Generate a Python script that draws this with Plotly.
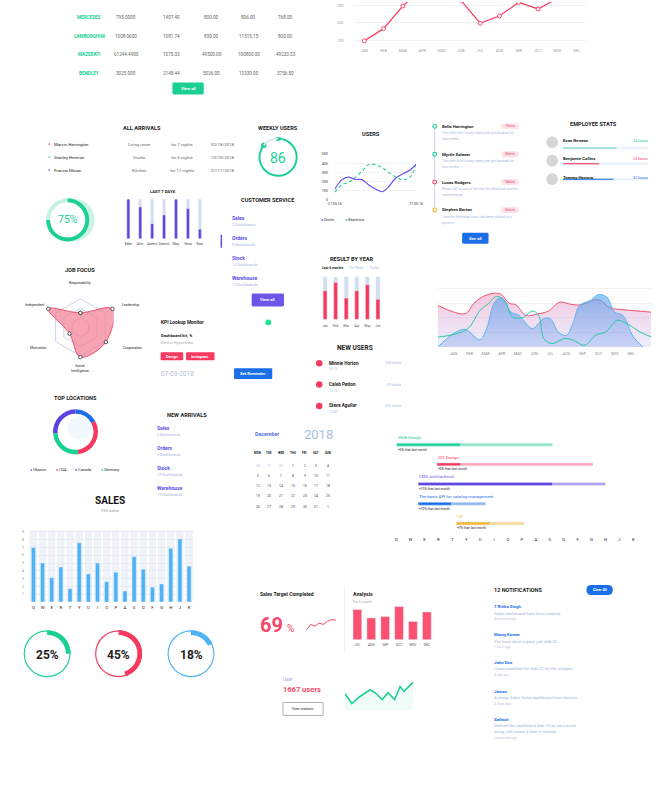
import math
import plotly.graph_objects as go

W, H = 658, 794
FONT = "Roboto"

GREEN = "#1ccf93"; RED = "#f7395e"; PURPLE = "#5b44e0"; BLUE = "#1a6fe8"
SKY = "#4db3f5"; ORANGE = "#f7b731"; TRACK = "#d3ddef"; DARK = "#222222"
GREY = "#777777"; PALE = "#a5b4d8"

# ---------------- data ----------------
car_names = ["MERCEDES", "LAMBORGHINI", "MAZERATI", "BENDLEY"]
car_c1 = ["795.0000", "1008.0600", "61244.4900", "3025.000"]
car_c2 = ["1407.40", "1081.74", "1075.33", "2148.44"]
car_c3 = ["800.00", "830.00", "49500.00", "5026.00"]
car_c4 = ["806.00", "11515.15", "100800.00", "13330.00"]
car_c5 = ["768.00", "800.00", "49233.33", "3756.50"]

months = ["JAN", "FEB", "MAR", "APR", "MAY", "JUN", "JUL", "AUG", "SEP", "OCT", "NOV", "DEC"]
top_line_values = [97, 167, 297, 400, 380, 330, 198, 240, 318, 280, 340, 360]
top_line_ticks = [100, 200, 300]

arrival_names = ["Marvin Harrington", "Stanley Hermon", "Francis Moran"]
arrival_rooms = ["Living room", "Studio", "Kitchen"]
arrival_nights = ["for 7 nights", "for 6 nights", "for 11 nights"]
arrival_dates = ["02/18/2018", "10/25/2018", "01/11/2018"]
arrival_colors = [RED, GREEN, "#7b3fe4"]

weekly_users = 86

users_dmitri = [120, 220, 250, 225, 222, 165, 120, 90, 150, 240, 285, 322, 388]
users_ekaterina = [87, 165, 192, 246, 312, 388, 388, 352, 300, 250, 222, 240, 370]
users_ticks = [0, 100, 200, 300, 400, 500]
users_dates = ["27.05.16", "27.05.16"]

timeline_names = ["Bella Harrington", "Myrtle Salazar", "Lucas Rodgers", "Stephen Barton"]
timeline_times = ["15min.", "36min.", "34min.", "56min."]
timeline_text1 = ["Two bed mini luxury room just got booked for",
                  "Two bed mini luxury room just got booked for",
                  "Room 241 is out of service for electrical system",
                  "Jennifer Huffman have has been added to a"]
timeline_text2 = ["two weeks", "two weeks", "maintenance.", "system."]
timeline_colors = [GREEN, GREEN, RED, ORANGE]

employee_names = ["Evan Newton", "Benjamin Collins", "Tommy Herrera"]
employee_hours = [34, 23, 32]
employee_colors = ["#5fe0b5", RED, BLUE]

last7_names = ["Eddie", "Alvin", "Andrew", "Dominic", "Mary", "Verna", "Ross"]
last7_values = [1.0, 0.80, 0.38, 0.60, 1.0, 0.76, 0.24]

service_items = ["Sales", "Orders", "Stock", "Warehouse"]
service_sub = ["2 Dashboards", "9 Dashboards", "13 Dashboards", "13 Dashboards"]

radar_axes = ["Responsibility", "Leadership", "Cooperation", "Social Intelligence", "Motivation", "Independent"]
radar_values = [0.38, 0.97, 0.77, 0.78, 0.33, 0.97]

result_tabs = ["Last 6 months", "The Week", "Today"]
result_months = ["Jan", "Feb", "Mar", "Apr", "May", "Jun"]
result_values = [0.67, 0.86, 0.50, 0.67, 0.81, 0.47]

new_user_names = ["Minnie Horton", "Caleb Patton", "Steve Aguilar"]
new_user_times = ["09:10", "12:10", "13:43"]
new_user_clicks = ["134 clicks", "69 clicks", "672 clicks"]

area_red_x = [-0.97, 0.73, 1.25, 1.76, 2.55, 2.97, 3.45, 3.88, 4.48, 5.27, 5.88, 6.6, 7.3, 7.9, 8.73, 9.1, 9.7, 10.5, 12.3]
area_red_y = [2.85, 2.28, 2.96, 3.41, 3.68, 3.59, 3.0, 2.89, 2.17, 2.28, 2.46, 3.07, 2.92, 2.89, 3.23, 3.19, 2.69, 2.56, 2.39]
area_blue_x = [-0.97, 0.04, 0.75, 1.65, 2.06, 2.56, 2.97, 3.58, 4.06, 4.89, 5.6, 6.0, 6.5, 7.0, 7.4, 7.82, 8.5, 9.0, 9.5, 10.0, 10.5, 11.15, 11.76]
area_blue_y = [0.0, 0.95, 1.22, 0.5, 1.27, 3.07, 3.37, 2.39, 2.17, 1.27, 1.95, 1.95, 1.04, 0.81, 1.61, 2.85, 3.19, 3.59, 3.41, 2.39, 2.17, 0.7, 0.0]
area_teal_x = [-0.97, 0.85, 1.65, 2.16, 2.67, 3.17, 3.68, 4.28, 4.89, 5.29, 5.6, 6.1, 6.9, 7.4, 8.12, 8.83, 9.44, 10.14, 10.75, 11.56, 12.3]
area_teal_y = [0.68, 1.22, 2.51, 2.96, 3.46, 3.19, 2.05, 2.01, 2.46, 2.17, 0.59, 0.25, 0.59, 0.49, 0.14, 0.83, 1.04, 1.83, 1.61, 1.04, 0.68]

location_names = ["Ukraine", "USA", "Germany", "Canada"]
location_values = [17, 31, 26, 26]
location_colors = [BLUE, RED, GREEN, PURPLE]
legend_order = ["Ukraine", "USA", "Canada", "Germany"]

arrivals_items = ["Sales", "Orders", "Stock", "Warehouse"]
arrivals_sub = ["2 Dashboards", "9 Dashboards", "13 Dashboards", "13 Dashboards"]

cal_month = "December"
cal_year = "2018"
cal_days = ["MON", "TUE", "WED", "THU", "FRI", "SAT", "SUN"]
cal_rows = [[28, 29, 30, 1, 2, 3, 4],
            [5, 6, 7, 8, 9, 10, 11],
            [12, 13, 14, 15, 16, 17, 18],
            [19, 20, 21, 22, 23, 24, 25],
            [26, 27, 28, 29, 30, 31, 1]]

letters = list("QWERTYUIOPASDFGHJK")
gantt_tasks = ["WEB Design", "IOS Design", "CMS and backend", "The basic API for catalog management", "UX"]
gantt_start = [0.0, 2.9, 1.55, 1.55, 4.3]
gantt_done = [4.6, 4.6, 11.2, 3.94, 6.7]
gantt_end = [11.2, 14.1, 15.0, 6.4, 9.15]
gantt_notes = ["+5% than last month", "+5% than last month", "+10% than last month",
               "+10% than last month", "+7% than last month"]
gantt_dark = [GREEN, RED, PURPLE, BLUE, ORANGE]
gantt_light = ["#8de8c8", "#fba5b8", "#aea2ef", "#8fb8f4", "#fbdb98"]

sales_values = [7.0, 5.0, 3.1, 4.5, 1.7, 7.6, 3.6, 5.0, 2.6, 3.8, 1.4, 5.8, 4.2, 1.9, 2.3, 6.9, 8.1, 4.6]
sales_ticks = [1, 2, 3, 4, 5, 6, 7, 8, 9]

ring_pcts = [25, 45, 18]
ring_colors = [GREEN, RED, SKY]

target_pct = 69
target_spark = [0, 1.6, 1.1, 2.0, 1.6, 2.5, 3.0, 2.8]
analysis_months = ["JUL", "AUG", "SEP", "OCT", "NOV", "DEC"]
analysis_values = [9.1, 6.6, 7.0, 10.0, 5.5, 8.4]
user_count = 1667
user_line_x = [0, 21, 44, 77, 94, 114, 132, 152, 169, 181, 209]
user_line_y = [5.0, 2.0, 4.0, 6.2, 5.2, 3.2, 5.3, 3.2, 7.2, 5.7, 8.5]

notif_names = ["T Ritika Singh", "Manoj Kumar", "John Deo", "James", "Sathish"]
notif_msgs = [["Sales dashboard have been created."],
              ["You have done a great job! #db-22."],
              ["I have modified the #db-22 for the widgets."],
              ["Average Sales Value dashboard have been re..."],
              ["Deleted the dashboard #db-10 as we are not", "using, will create it later if needed"]]
notif_times = ["4 minutes ago", "1 hour ago", "4 day ago", "4 days ago", "Last week ago"]

# ---------------- helpers ----------------
fig = go.Figure()
ann, shp, lay = [], [], {}
nax = [0]


def PX(x):
    return x / W


def PY(y):
    return 1 - y / H


def T(x, y, s, size=5, color=DARK, bold=False, anchor="center"):
    if bold:
        s = "<b>" + s + "</b>"
    ann.append(dict(x=PX(x), y=PY(y), xref="paper", yref="paper", text=s, showarrow=False,
                    xanchor=anchor, yanchor="middle", borderpad=0, borderwidth=0,
                    font=dict(size=size, color=color, family=FONT)))


def rrect(x0, y0, x1, y1, r, fill, line=None, lw=0, layer="below"):
    def p(x, y):
        return f"{PX(x):.5f},{PY(y):.5f}"
    path = (f"M {p(x0 + r, y0)} L {p(x1 - r, y0)} Q {p(x1, y0)} {p(x1, y0 + r)} "
            f"L {p(x1, y1 - r)} Q {p(x1, y1)} {p(x1 - r, y1)} L {p(x0 + r, y1)} "
            f"Q {p(x0, y1)} {p(x0, y1 - r)} L {p(x0, y0 + r)} Q {p(x0, y0)} {p(x0 + r, y0)} Z")
    shp.append(dict(type="path", path=path, xref="paper", yref="paper", fillcolor=fill,
                    line=dict(color=line or fill, width=lw), layer=layer))


def circ(cx, cy, r, fill, line=None, lw=0, layer="below"):
    shp.append(dict(type="circle", xref="paper", yref="paper", x0=PX(cx - r), x1=PX(cx + r),
                    y0=PY(cy + r), y1=PY(cy - r), fillcolor=fill,
                    line=dict(color=line or fill, width=lw), layer=layer))


def hline(x0, y0, x1, y1, color, width=1, layer="below"):
    shp.append(dict(type="line", xref="paper", yref="paper", x0=PX(x0), x1=PX(x1),
                    y0=PY(y0), y1=PY(y1), line=dict(color=color, width=width), layer=layer))


def button(x0, y0, x1, y1, label, fill, color="white", r=1.5, size=4.2):
    rrect(x0, y0, x1, y1, r, fill)
    T((x0 + x1) / 2, (y0 + y1) / 2, label, size, color, bold=True)


def axes(x0, x1, y0, y1, xa=None, ya=None):
    nax[0] += 1
    n = nax[0]
    xs = "x" if n == 1 else f"x{n}"
    ys = "y" if n == 1 else f"y{n}"
    base = dict(showgrid=False, zeroline=False, showline=False, ticks="", showticklabels=False,
                fixedrange=True, tickangle=0)
    xd = dict(base, domain=[PX(x0), PX(x1)], anchor=ys)
    xd.update(xa or {})
    yd = dict(base, domain=[PY(y1), PY(y0)], anchor=xs)
    yd.update(ya or {})
    lay["xaxis" if n == 1 else f"xaxis{n}"] = xd
    lay["yaxis" if n == 1 else f"yaxis{n}"] = yd
    return xs, ys


def pie(cx, cy, r, values, colors, hole, direction="clockwise"):
    fig.add_trace(go.Pie(values=values, marker=dict(colors=colors, line=dict(width=0)), hole=hole,
                         sort=False, direction=direction, rotation=0, textinfo="none",
                         hoverinfo="skip", showlegend=False,
                         domain=dict(x=[PX(cx - r), PX(cx + r)], y=[PY(cy + r), PY(cy - r)])))


# ---------------- top table ----------------
col_x = [122, 168, 209, 247, 285]
row_y = [16, 35, 53, 72]
for i, name in enumerate(car_names):
    T(84, row_y[i], name, 4.6, GREEN, bold=True)
    for cx, col in zip(col_x, [car_c1, car_c2, car_c3, car_c4, car_c5]):
        T(cx, row_y[i], col[i], 4.6, "#666")
button(169, 81, 201, 93, "View all", GREEN)

# ---------------- top line chart ----------------
xs, ys = axes(355, 592, 0, 45.5,
              dict(range=[-0.507, 11.5], showticklabels=True, tickvals=list(range(12)), ticktext=months,
                   tickfont=dict(size=3.8, color="#999", family=FONT)),
              dict(range=[60, 320], showgrid=True, gridcolor="#eef2f9", gridwidth=1,
                   tickvals=top_line_ticks, showticklabels=True, ticklabelstandoff=10,
                   tickfont=dict(size=3.8, color="#999", family=FONT)))
fig.add_trace(go.Scatter(x=list(range(12)), y=top_line_values, xaxis=xs, yaxis=ys, mode="lines+markers",
                         line=dict(color="#fb4869", width=1.3),
                         marker=dict(size=4, color="white", line=dict(color="#fb4869", width=1)),
                         hoverinfo="skip", showlegend=False))

# ---------------- all arrivals ----------------
T(138, 127, "ALL ARRIVALS", 5.6, DARK, bold=True)
for i in range(3):
    y = 143 + i * 13
    T(43, y, "●", 3.5, arrival_colors[i])
    T(48, y, arrival_names[i], 4.3, DARK, anchor="left")
    T(135, y, arrival_rooms[i], 4.3, "#666")
    T(179, y, arrival_nights[i], 4.3, "#666")
    T(220, y, arrival_dates[i], 4.3, "#666")

# ---------------- weekly users ----------------
T(277, 127, "WEEKLY USERS", 5.6, DARK, bold=True)
pie(277, 156, 20, [weekly_users, 100 - weekly_users], [GREEN, "#dfe5f0"], 0.9)
xs, ys = axes(257, 297, 136, 176, dict(range=[-1, 1]), dict(range=[-1, 1]))
ang = [0, weekly_users / 100 * 2 * math.pi]
fig.add_trace(go.Scatter(x=[0.95 * math.sin(a) for a in ang], y=[0.95 * math.cos(a) for a in ang],
                         xaxis=xs, yaxis=ys, mode="markers", marker=dict(size=5.5, color=GREEN),
                         hoverinfo="skip", showlegend=False))
T(277, 157, str(weekly_users), 14, GREEN)

# ---------------- users chart ----------------
T(372, 133, "USERS", 5.6, DARK, bold=True)
xs, ys = axes(335, 418, 153, 199,
              dict(range=[0, 12], showticklabels=True, tickvals=[0, 12], ticktext=users_dates,
                   tickfont=dict(size=3.6, color="#333", family=FONT)),
              dict(range=[0, 500], showgrid=True, gridcolor="#eef1f6", tickvals=users_ticks,
                   showticklabels=True, ticklabelstandoff=6, tickfont=dict(size=3.6, color="#333", family=FONT)))
fig.add_trace(go.Scatter(x=list(range(13)), y=users_dmitri, xaxis=xs, yaxis=ys, mode="lines",
                         line=dict(color="#6b4fe8", width=1.2, shape="spline", smoothing=0.8),
                         hoverinfo="skip", showlegend=False))
fig.add_trace(go.Scatter(x=list(range(13)), y=users_ekaterina, xaxis=xs, yaxis=ys, mode="lines",
                         line=dict(color=GREEN, width=1.2, dash="dot", shape="spline", smoothing=0.8),
                         hoverinfo="skip", showlegend=False))
T(321, 219, "<span style='color:#6b4fe8'>●</span> Dmitri", 3.8, "#333", anchor="left")
T(345, 219, "<span style='color:#1ccf93'>●</span> Ekaterina", 3.8, "#333", anchor="left")

# ---------------- timeline ----------------
hline(437, 125, 437, 209, "#c9d3e8", 1)
for i in range(4):
    y = 125 + i * 28
    circ(437, y, 1.9, "white", timeline_colors[i], 1.1, layer="above")
    T(444, y, timeline_names[i], 4.3, DARK, bold=True, anchor="left")
    rrect(505, y - 3, 523, y + 3, 2.5, "#fde3e9")
    T(514, y, timeline_times[i], 3.6, RED)
    T(444, y + 7, timeline_text1[i], 3.6, "#aab8d8", anchor="left")
    T(444, y + 13, timeline_text2[i], 3.6, "#aab8d8", anchor="left")
button(465, 232, 492, 243, "See all", BLUE)

# ---------------- employee stats ----------------
T(599, 123, "EMPLOYEE STATS", 5.6, DARK, bold=True)
emp_rows = [144, 162.5, 181]
xs, ys = axes(568, 655, 139, 186, dict(range=[0, 54]), dict(range=[2.5, -0.5]))
fig.add_trace(go.Bar(y=[0, 1, 2], x=[54, 54, 54], orientation="h", xaxis=xs, yaxis=ys, width=0.1,
                     marker=dict(color="#eef2f9"), hoverinfo="skip", showlegend=False))
fig.add_trace(go.Bar(y=[0, 1, 2], x=employee_hours, orientation="h", xaxis=xs, yaxis=ys, width=0.1,
                     marker=dict(color=employee_colors), hoverinfo="skip", showlegend=False))
for i in range(3):
    circ(557, emp_rows[i] - 3, 6, "#d6d6d6")
    T(568, emp_rows[i] - 5, employee_names[i], 4.3, DARK, bold=True, anchor="left")
    T(655, emp_rows[i] - 5, f"{employee_hours[i]} hours", 3.8, employee_colors[i] if i else GREEN, anchor="right")

# ---------------- 75% donut ----------------
circ(68, 219, 21.5, "#cdf3e4")
circ(62, 219, 18, "white")
pie(62, 219, 22, [1], ["#c5f0e0"], 0.82)
pie(62, 219, 22, [75, 25], [GREEN, "rgba(0,0,0,0)"], 0.82)
T(62, 219, "75%", 10.5, GREEN)

# ---------------- last 7 days ----------------
T(159, 190, "LAST 7 DAYS", 4.2, DARK, bold=True)
xs, ys = axes(117.9, 203.1, 198, 238,
              dict(range=[-0.5, 6.5], showticklabels=True, tickfont=dict(size=2.9, color="#333", family=FONT),
                   ticklabelstandoff=2),
              dict(range=[0, 1]))
fig.add_trace(go.Bar(x=last7_names, y=[1] * 7, xaxis=xs, yaxis=ys, width=0.25,
                     marker=dict(color=TRACK, cornerradius=2), hoverinfo="skip", showlegend=False))
fig.add_trace(go.Bar(x=last7_names, y=last7_values, xaxis=xs, yaxis=ys, width=0.25,
                     marker=dict(color=PURPLE, cornerradius=2), hoverinfo="skip", showlegend=False))

# ---------------- customer service ----------------
T(267, 199, "CUSTOMER SERVICE", 5.6, DARK, bold=True)
for i in range(4):
    T(230, 217 + i * 20, service_items[i], 5, "#5c4ee5", bold=True, anchor="left")
    T(230, 224 + i * 20, service_sub[i], 3.8, "#aab6dc", anchor="left")
hline(219, 234, 219, 247, "#5c4ee5", 1.5)
button(250, 293, 283, 306, "View all", "#6a57e8")

# ---------------- job focus radar ----------------
T(75, 269, "JOB FOCUS", 5.6, DARK, bold=True)
fig.add_trace(go.Scatterpolar(r=radar_values + radar_values[:1], theta=radar_axes + radar_axes[:1],
                              mode="lines+markers", fill="toself", fillcolor="rgba(245,120,145,0.68)",
                              line=dict(color="#f0506e", width=1, shape="spline"),
                              marker=dict(size=3.5, color="white", line=dict(color="#333", width=0.8)),
                              hoverinfo="skip", showlegend=False))
lay["polar"] = dict(domain=dict(x=[PX(36), PX(114)], y=[PY(366), PY(288)]), bgcolor="rgba(0,0,0,0)",
                    gridshape="linear",
                    radialaxis=dict(range=[0, 1], tickvals=[0.25, 0.5, 0.75, 1.0], showticklabels=False,
                                    showline=False, gridcolor="#c9d6ef", ticks=""),
                    angularaxis=dict(rotation=90, direction="clockwise", showticklabels=False,
                                     showgrid=False, showline=False, ticks=""))
T(75, 282, "Responsibility", 3.5, DARK)
T(117, 305, "Leadership", 3.5, DARK, anchor="left")
T(128, 348, "Cooperation", 3.5, DARK)
T(75, 368, "Social<br>Intelligence", 3.5, DARK)
T(32, 348, "Motivation", 3.5, DARK)
T(29, 305, "Independent", 3.5, DARK)

# ---------------- KPI ----------------
T(157, 322, "KPI Lookup Monitor", 4.8, DARK, bold=True, anchor="left")
circ(267, 322, 3, "#22e68f")
T(157, 336, "Dashboard kit, %", 4.2, DARK, bold=True, anchor="left")
T(157, 342, "Dmitrii Hyzuvenko", 4, "#aaaaaa", anchor="left")
button(157, 352, 180, 360, "Design", RED, r=0.8, size=3.8)
button(183, 352, 212, 360, "Instagram", RED, r=0.8, size=3.8)
T(157, 374, "07-03-2018", 6.5, "#b5c0dc", anchor="left")
button(232, 368, 271, 379, "Set Reminder", BLUE, r=0.8)

# ---------------- result by year ----------------
T(352, 258, "RESULT BY YEAR", 5.6, DARK, bold=True)
T(333, 267, result_tabs[0], 3.3, DARK, bold=True)
T(357, 267, result_tabs[1], 3.3, "#a9bbe0")
T(375, 267, result_tabs[2], 3.3, "#a9bbe0")
xs, ys = axes(319.6, 384.4, 276, 319,
              dict(range=[-0.5, 5.5], showticklabels=True, tickfont=dict(size=3.4, color="#555", family=FONT),
                   ticklabelstandoff=3),
              dict(range=[0, 1]))
fig.add_trace(go.Bar(x=result_months, y=[1] * 6, xaxis=xs, yaxis=ys, width=0.37,
                     marker=dict(color=TRACK, cornerradius=2), hoverinfo="skip", showlegend=False))
fig.add_trace(go.Bar(x=result_months, y=result_values, xaxis=xs, yaxis=ys, width=0.37,
                     marker=dict(color=RED, cornerradius=2), hoverinfo="skip", showlegend=False))

# ---------------- new users ----------------
T(356, 348, "NEW USERS", 6.5, DARK, bold=True)
for i in range(3):
    y = 363 + i * 21.5
    circ(319, y, 3.3, RED)
    T(329, y, new_user_names[i], 4.6, DARK, bold=True, anchor="left")
    T(329, y + 6, new_user_times[i], 3.4, "#a9bbe0", anchor="left")
    T(403, y, new_user_clicks[i], 3.6, "#a9bbe0", anchor="right")

# ---------------- area chart ----------------
xs, ys = axes(440, 658, 285, 347,
              dict(range=[-0.97, 12.24], showticklabels=True, tickvals=list(range(12)), ticktext=months,
                   tickfont=dict(size=3.8, color="#888", family=FONT), ticklabelstandoff=3),
              dict(range=[0, 4.2], showgrid=True, gridcolor="#eef1f6", tickvals=[0, 1, 2, 3, 4]))
fig.add_trace(go.Scatter(x=area_red_x, y=area_red_y, xaxis=xs, yaxis=ys, mode="lines", fill="tozeroy",
                         fillgradient=dict(type="vertical",
                                           colorscale=[[0, "rgba(180,185,240,0.25)"], [1, "rgba(240,120,175,0.42)"]]),
                         line=dict(color="#f2506f", width=1, shape="spline"), hoverinfo="skip", showlegend=False))
fig.add_trace(go.Scatter(x=area_blue_x, y=area_blue_y, xaxis=xs, yaxis=ys, mode="lines", fill="tozeroy",
                         fillgradient=dict(type="vertical",
                                           colorscale=[[0, "rgba(120,150,235,0.3)"], [1, "rgba(70,165,240,0.6)"]]),
                         line=dict(color="#58b6f2", width=1, shape="spline"), hoverinfo="skip", showlegend=False))
fig.add_trace(go.Scatter(x=area_teal_x, y=area_teal_y, xaxis=xs, yaxis=ys, mode="lines",
                         line=dict(color="#27c9a2", width=1, shape="spline"), hoverinfo="skip", showlegend=False))

# ---------------- top locations ----------------
T(70, 398, "TOP LOCATIONS", 5.6, DARK, bold=True)
circ(74, 428, 12, "rgba(26,111,232,0.05)")
pie(70, 432, 23, location_values, location_colors, 0.8)
lx = [24, 50, 69, 96]
for i, nm in enumerate(legend_order):
    c = location_colors[location_names.index(nm)]
    T(lx[i], 470, f"<span style='color:{c}'>●</span> {nm}", 3.8, DARK, anchor="left")

# ---------------- new arrivals ----------------
T(184, 415, "NEW ARRIVALS", 5.6, DARK, bold=True)
for i in range(4):
    T(153, 428 + i * 20, arrivals_items[i], 5, "#5c4ee5", bold=True, anchor="left")
    T(153, 435 + i * 20, arrivals_sub[i], 3.8, "#aab6dc", anchor="left")

# ---------------- calendar ----------------
T(253, 434, cal_month, 5.3, "#5c6fe0", bold=True, anchor="left")
T(318, 435, cal_year, 13, "#a8bde6")
cal_x = [256, 268, 280, 292, 304, 316, 328]
for j, d in enumerate(cal_days):
    T(cal_x[j], 453, d, 3, DARK, bold=True)
for r, row in enumerate(cal_rows):
    for j, d in enumerate(row):
        muted = (r == 0 and d > 20)
        T(cal_x[j], 466 + r * 10.3, str(d), 3.4, "#b8c3dc" if muted else "#444")

# ---------------- gantt ----------------
xs, ys = axes(398, 640, 435, 534,
              dict(range=[0, 17], showticklabels=True, tickvals=list(range(18)), ticktext=letters,
                   tickfont=dict(size=4.3, color=DARK, family=FONT), ticklabelstandoff=2),
              dict(range=[4.5, -0.5]))
rows = list(range(5))
fig.add_trace(go.Bar(y=rows, x=[e - s for s, e in zip(gantt_start, gantt_end)], base=gantt_start,
                     orientation="h", xaxis=xs, yaxis=ys, width=0.15, marker=dict(color=gantt_light),
                     hoverinfo="skip", showlegend=False))
fig.add_trace(go.Bar(y=rows, x=[d - s for s, d in zip(gantt_start, gantt_done)], base=gantt_start,
                     orientation="h", xaxis=xs, yaxis=ys, width=0.15, marker=dict(color=gantt_dark),
                     hoverinfo="skip", showlegend=False))
for i in rows:
    ann.append(dict(x=gantt_start[i], y=i - 0.36, xref=xs, yref=ys, text=gantt_tasks[i], showarrow=False,
                    xanchor="left", yanchor="middle", borderpad=0,
                    font=dict(size=4.3, color=gantt_dark[i] if i != 2 else "#6d5ae6", family=FONT)))
    ann.append(dict(x=gantt_start[i], y=i + 0.25, xref=xs, yref=ys, text=gantt_notes[i], showarrow=False,
                    xanchor="left", yanchor="middle", borderpad=0,
                    font=dict(size=3.2, color=DARK, family=FONT)))

# ---------------- sales ----------------
T(105, 501, "SALES", 10, "#111", bold=True)
T(105, 511, "295 sales", 4.2, "#999")
xs, ys = axes(22.3, 190.7, 531, 603,
              dict(range=[-0.5, 17.5], showticklabels=True, tickfont=dict(size=4.3, color=DARK, family=FONT),
                   ticklabelstandoff=2),
              dict(range=[0, 9.2], showgrid=True, gridcolor="#e9edf4", tickvals=sales_ticks,
                   showticklabels=True, ticklabelstandoff=4, tickfont=dict(size=3.4, color="#888", family=FONT)))
fig.add_trace(go.Bar(x=letters, y=[9.2] * 18, xaxis=xs, yaxis=ys, width=0.7,
                     marker=dict(color="rgba(232,236,246,0.7)"), hoverinfo="skip", showlegend=False))
fig.add_trace(go.Bar(x=letters, y=sales_values, xaxis=xs, yaxis=ys, width=0.45,
                     marker=dict(color=SKY), hoverinfo="skip", showlegend=False))

# ---------------- percentage rings ----------------
ring_cx = [41, 114, 188]
for cx, pct, col in zip(ring_cx, ring_pcts, ring_colors):
    pie(cx, 655, 24, [1], [col], 0.95)
    pie(cx, 655, 24, [pct, 100 - pct], [col, "rgba(0,0,0,0)"], 0.8, direction="counterclockwise")
    T(cx, 656, f"{pct}%", 12, "#222", bold=True)

# ---------------- sales target ----------------
T(259, 595, "Sales Target Completed", 5, DARK, bold=True, anchor="left")
T(259, 626, str(target_pct), 20, "#f7476b", bold=True, anchor="left")
T(286, 630, "%", 10, "#f7476b", anchor="left")
xs, ys = axes(306, 336, 620, 632, dict(range=[0, 7]), dict(range=[-0.2, 3.2]))
fig.add_trace(go.Scatter(x=list(range(8)), y=target_spark, xaxis=xs, yaxis=ys, mode="lines",
                         line=dict(color="#f7476b", width=1), hoverinfo="skip", showlegend=False))
hline(345, 587, 345, 653, "#eceff5", 1)

# ---------------- analysis ----------------
T(354, 595, "Analysis", 5.2, DARK, bold=True, anchor="left")
T(354, 603, "For 6 month", 3.5, "#aaaaaa", anchor="left")
xs, ys = axes(350.9, 436.1, 607, 641,
              dict(range=[-0.5, 5.5], showticklabels=True, tickfont=dict(size=3.4, color="#555", family=FONT),
                   ticklabelstandoff=2),
              dict(range=[0, 10.2]))
fig.add_trace(go.Bar(x=analysis_months, y=analysis_values, xaxis=xs, yaxis=ys, width=0.63,
                     marker=dict(color="#fb5071"), hoverinfo="skip", showlegend=False))

# ---------------- user ----------------
T(282, 681, "User", 4.8, "#a9a3ea", anchor="left")
T(282, 691, f"{user_count} users", 7.5, "#f7476b", bold=True, anchor="left")
rrect(282, 704, 323, 717, 0.5, "white", "#9a9a9a", 0.8)
T(302.5, 710.5, "View statistic", 3.6, DARK)
xs, ys = axes(345.3, 415, 683.3, 711.7, dict(range=[0, 209]), dict(range=[0, 8.6]))
fig.add_trace(go.Scatter(x=user_line_x, y=user_line_y, xaxis=xs, yaxis=ys, mode="lines", fill="tozeroy",
                         fillcolor="rgba(28,207,147,0.07)", line=dict(color="#1ccf93", width=1.6),
                         hoverinfo="skip", showlegend=False))

# ---------------- notifications ----------------
T(498, 591, "12 NOTIFICATIONS", 5.5, DARK, bold=True, anchor="left")
rrect(592, 586, 619, 596, 5, BLUE)
T(605.5, 591, "Clear All", 3.6, "white", bold=True)
ny = [608, 636, 664, 693, 721]
for i in range(5):
    T(498, ny[i], notif_names[i], 4.3, BLUE, bold=True, anchor="left")
    for k, m in enumerate(notif_msgs[i]):
        T(498, ny[i] + 6.3 + k * 6, m, 4.2, "#a3b4d8", anchor="left")
    T(498, ny[i] + 12.5 + (len(notif_msgs[i]) - 1) * 6.5, notif_times[i], 3.5, "#bcc6d8", anchor="left")

# ---------------- layout ----------------
fig.update_layout(width=W, height=H, margin=dict(l=0, r=0, t=0, b=0), paper_bgcolor="white",
                  plot_bgcolor="rgba(0,0,0,0)", showlegend=False, barmode="overlay", hovermode=False,
                  font=dict(family=FONT), annotations=ann, shapes=shp, **lay)
fig.write_html("out.html", config={"displayModeBar": False},
               post_script="document.body.style.margin='0px';document.body.style.overflow='hidden';")
